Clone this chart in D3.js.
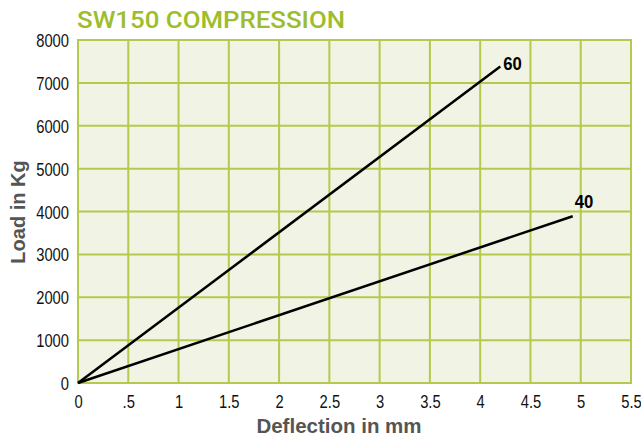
<!DOCTYPE html>
<html><head><meta charset="utf-8">
<script src="https://cdn.jsdelivr.net/npm/d3@7/dist/d3.min.js"></script>
<style>body{margin:0;background:#fff}</style>
</head><body>
<svg id="c" width="641" height="440"></svg>
<script>
const title = "SW150 COMPRESSION";
const xTicks = [0, 0.5, 1, 1.5, 2, 2.5, 3, 3.5, 4, 4.5, 5, 5.5];
const xTickLabels = ["0", ".5", "1", "1.5", "2", "2.5", "3", "3.5", "4", "4.5", "5", "5.5"];
const yTicks = [0, 1000, 2000, 3000, 4000, 5000, 6000, 7000, 8000];
const seriesNames = ["60", "40"];
const series60 = [[0, 0], [4.2, 7380]];
const series40 = [[0, 0], [4.92, 3890]];

// label offsets (styling)
const labelOffsets = [[3, 3], [2, -8]];

const svg = d3.select("#c");
const m = {l: 78, t: 40, r: 631, b: 383};
const x = d3.scaleLinear().domain([0, 5.5]).range([m.l, m.r]);
const y = d3.scaleLinear().domain([0, 8000]).range([m.b, m.t]);
const grid = "#b3ca4c";
const tickFont = "'Liberation Sans',Arial,sans-serif";
const sx = 0.82;

svg.append("rect").attr("x", m.l).attr("y", m.t).attr("width", m.r - m.l).attr("height", m.b - m.t).attr("fill", "#f1f3e4");

svg.append("g").selectAll("line").data(xTicks).join("line")
  .attr("x1", d => x(d)).attr("x2", d => x(d)).attr("y1", m.t - 1).attr("y2", m.b + 1)
  .attr("stroke", grid).attr("stroke-width", 2);
svg.append("g").selectAll("line").data(yTicks).join("line")
  .attr("y1", d => y(d)).attr("y2", d => y(d)).attr("x1", m.l - 1).attr("x2", m.r + 1)
  .attr("stroke", grid).attr("stroke-width", 2);

const xAxis = d3.axisBottom(x).tickValues(xTicks).tickFormat((d, i) => xTickLabels[i]).tickSize(0).tickPadding(0);
const gx = svg.append("g").attr("transform", `translate(0,${m.b})`).call(xAxis);
gx.select(".domain").remove();
gx.selectAll("text").attr("y", null).attr("dy", null)
  .attr("transform", `translate(0,24.5) scale(${sx},1)`)
  .attr("font-family", tickFont).attr("font-size", 18).attr("fill", "#111");

const yAxis = d3.axisLeft(y).tickValues(yTicks).tickFormat(d3.format("d")).tickSize(0).tickPadding(0);
const gy = svg.append("g").attr("transform", `translate(${m.l},0)`).call(yAxis);
gy.select(".domain").remove();
gy.selectAll("text").attr("x", null).attr("dy", null)
  .attr("transform", `translate(-9,6.5) scale(${sx},1)`)
  .attr("font-family", tickFont).attr("font-size", 18).attr("fill", "#111");

const line = d3.line().x(d => x(d[0])).y(d => y(d[1]));
[series60, series40].forEach((s, i) => {
  svg.append("path").datum(s).attr("d", line).attr("fill", "none").attr("stroke", "#000").attr("stroke-width", 2.5);
  const last = s[s.length - 1];
  svg.append("text")
    .attr("transform", `translate(${x(last[0]) + labelOffsets[i][0]},${y(last[1]) + labelOffsets[i][1]}) scale(0.88,1)`)
    .attr("font-family", "'Liberation Sans',Arial,sans-serif").attr("font-weight", "bold").attr("font-size", 19)
    .attr("fill", "#000").text(seriesNames[i]);
});

svg.append("text").attr("x", 77).attr("y", 28).attr("font-family", "Roboto,'DejaVu Sans',sans-serif").attr("font-weight", 500)
  .attr("font-size", 24).attr("fill", "#9dbd2c").attr("textLength", 268).attr("lengthAdjust", "spacingAndGlyphs").text(title);

svg.append("text").attr("x", 339).attr("y", 433).attr("text-anchor", "middle")
  .attr("font-family", "'Liberation Sans',Arial,sans-serif").attr("font-weight", "bold").attr("font-size", 20.5)
  .attr("fill", "#555").text("Deflection in mm");

svg.append("text").attr("transform", "translate(25,212) rotate(-90)").attr("text-anchor", "middle")
  .attr("font-family", "'Liberation Sans',Arial,sans-serif").attr("font-weight", "bold").attr("font-size", 20)
  .attr("fill", "#555").text("Load in Kg");
</script>
</body></html>
